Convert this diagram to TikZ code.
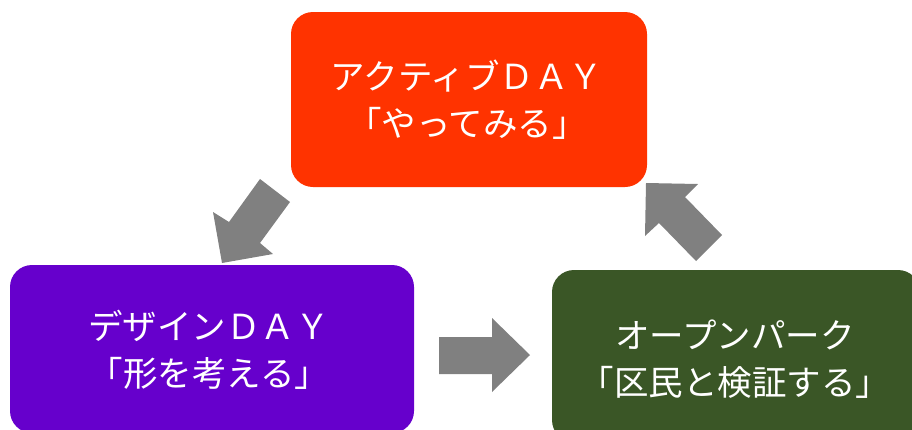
\documentclass[tikz,border=0pt]{standalone}
\usepackage{fontspec}
\newfontfamily\jp{Noto Sans CJK JP}
\definecolor{redbox}{HTML}{FF3300}
\definecolor{purplebox}{HTML}{6600CC}
\definecolor{greenbox}{HTML}{3A5626}
\definecolor{arrowgray}{HTML}{808080}
\begin{document}
\begin{tikzpicture}[x=1pt,y=-1pt,
  box/.style={rounded corners=22pt},
  lbl/.style={text=white,align=center,font=\jp\fontsize{34.5}{47}\selectfont},
  blockarrow/.style={fill=arrowgray,draw=none}]
\useasboundingbox (0,0) rectangle (912,429);
% boxes
\fill[redbox,box] (291,12) rectangle (647,187);
\fill[purplebox,box] (10,265) rectangle (414,433);
\fill[greenbox,box] (552,270) rectangle (920,442);
% labels
\node[lbl] (top) at (467,100) {アクティブＤＡＹ\\「やってみる」};
\node[lbl] (left) at (209,350) {デザインＤＡＹ\\「形を考える」};
\node[lbl] (right) at (735,359) {オープンパーク\\「区民と検証する」};
% arrows
\fill[blockarrow] (260,179) -- (290,202) -- (260,243) -- (273,254) -- (222,263) -- (213,212) -- (229,222) -- cycle;
\fill[blockarrow] (439,337) -- (492,337) -- (492,318) -- (530,355) -- (492,392) -- (492,374) -- (439,374) -- cycle;
\fill[blockarrow] (722,235) -- (696,261) -- (659,223) -- (645,236) -- (646,183) -- (698,184) -- (685,197) -- cycle;
\end{tikzpicture}
\end{document}
